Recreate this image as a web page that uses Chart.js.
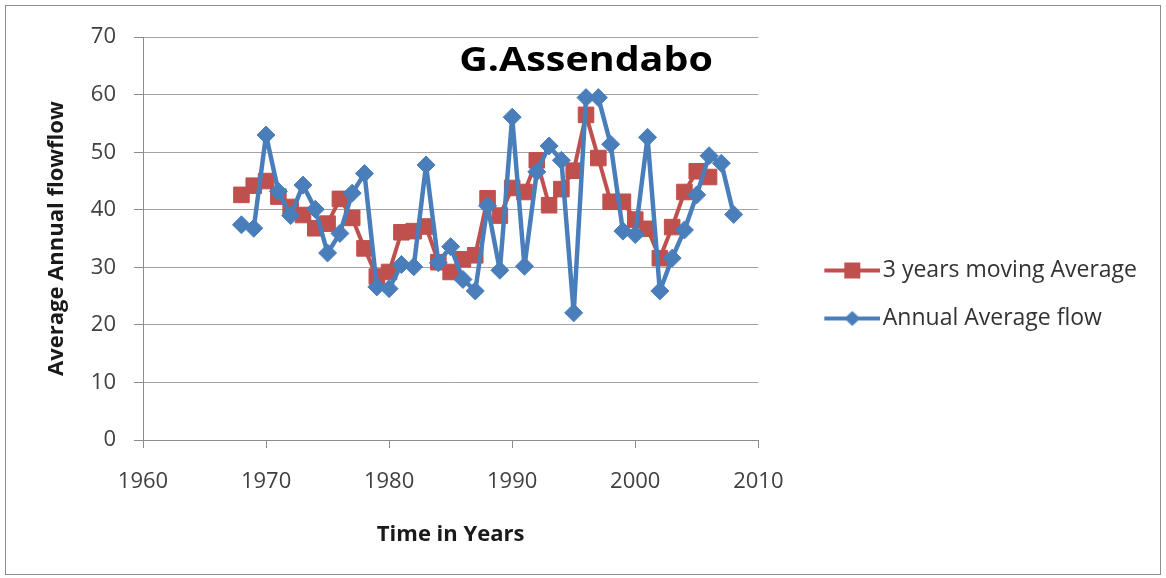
<!DOCTYPE html>
<html>
<head>
<meta charset="utf-8">
<title>G.Assendabo</title>
<script src="https://cdn.jsdelivr.net/npm/chart.js@4.4.0/dist/chart.umd.min.js"></script>
<style>
  html, body { margin: 0; padding: 0; background: #fff; }
  #frame { position: absolute; left: 5px; top: 5px; width: 1154px; height: 568px; border: 1px solid #8e8e8e; }
  #flowChart { display: block; }
</style>
</head>
<body>
<div id="frame"><canvas id="flowChart" width="1154" height="568"></canvas></div>
<script>
// Station and series names
const stationName = 'G.Assendabo';
const seriesNames = ['3 years moving Average', 'Annual Average flow'];

// Years of record
const years = [1968, 1969, 1970, 1971, 1972, 1973, 1974, 1975, 1976, 1977,
               1978, 1979, 1980, 1981, 1982, 1983, 1984, 1985, 1986, 1987,
               1988, 1989, 1990, 1991, 1992, 1993, 1994, 1995, 1996, 1997,
               1998, 1999, 2000, 2001, 2002, 2003, 2004, 2005, 2006, 2007, 2008];

// 3 years moving average (1968 - 2006)
const movingAverage = [42.6, 44.2, 45.0, 42.3, 40.5, 39.1, 36.8, 37.6, 41.9, 38.6,
                       33.3, 28.4, 29.2, 36.1, 36.3, 37.1, 30.9, 29.2, 31.4, 32.1,
                       42.0, 39.0, 43.8, 43.1, 48.6, 40.8, 43.6, 46.8, 56.5, 49.0,
                       41.4, 41.4, 38.3, 36.7, 31.6, 37.0, 43.1, 46.7, 45.7];

// Annual average flow (1968 - 2008)
const annualFlow = [37.4, 36.8, 53.0, 43.2, 39.0, 44.3, 40.1, 32.5, 35.9, 42.9,
                    46.3, 26.6, 26.3, 30.5, 30.1, 47.8, 30.8, 33.6, 27.9, 25.9,
                    40.7, 29.5, 56.1, 30.2, 46.6, 51.1, 48.6, 22.1, 59.5, 59.5,
                    51.4, 36.3, 35.7, 52.6, 25.9, 31.6, 36.5, 42.6, 49.4, 48.1, 39.2];

// Axis ticks
const xTicks = [1960, 1970, 1980, 1990, 2000, 2010];
const yTicks = [0, 10, 20, 30, 40, 50, 60, 70];

const RED = '#C0504D';
const BLUE = '#4A7EBB';
const GRID = '#a3a3a3';
const AXIS = '#8c8c8c';

Chart.defaults.font.family = '"Open Sans", sans-serif';

function toPoints(values) {
    return values.map((v, i) => ({ x: years[i], y: v }));
}

// Legend symbol: a short line with the series marker in the middle
function legendIcon(color, shape) {
    const c = document.createElement('canvas');
    c.width = 106;
    c.height = 24;
    const g = c.getContext('2d');
    g.strokeStyle = color;
    g.lineWidth = 4;
    g.beginPath();
    g.moveTo(50, 12);
    g.lineTo(106, 12);
    g.stroke();
    g.fillStyle = color;
    if (shape === 'square') {
        g.fillRect(70, 4, 16, 16);
    } else {
        g.beginPath();
        g.moveTo(78, 4.5);
        g.lineTo(86, 12);
        g.lineTo(78, 19.5);
        g.lineTo(70, 12);
        g.closePath();
        g.fill();
    }
    return c;
}
const legendIcons = [legendIcon(RED, 'square'), legendIcon(BLUE, 'diamond')];

// Station name written inside the plot area
const stationTitle = {
    id: 'stationTitle',
    afterDraw(chart) {
        const { ctx, chartArea } = chart;
        ctx.save();
        ctx.font = 'bold 34px "Open Sans", sans-serif';
        ctx.fillStyle = '#000';
        ctx.textAlign = 'center';
        ctx.textBaseline = 'middle';
        ctx.translate(chartArea.left + chartArea.width * 0.72, chartArea.top + 24);
        ctx.scale(1.16, 1);
        ctx.fillText(stationName, 0, 0);
        ctx.restore();
    }
};

const ctx = document.getElementById('flowChart').getContext('2d');
new Chart(ctx, {
    type: 'line',
    data: {
        datasets: [{
            label: seriesNames[0],
            data: toPoints(movingAverage),
            borderColor: RED,
            backgroundColor: RED,
            borderWidth: 4,
            borderJoinStyle: 'round',
            borderCapStyle: 'round',
            pointStyle: 'rect',
            pointRadius: 11,
            pointBackgroundColor: RED,
            pointBorderColor: RED,
            pointBorderWidth: 1,
            order: 2
        }, {
            label: seriesNames[1],
            data: toPoints(annualFlow),
            borderColor: BLUE,
            backgroundColor: BLUE,
            borderWidth: 4.5,
            borderJoinStyle: 'round',
            borderCapStyle: 'round',
            pointStyle: 'rectRot',
            pointRadius: 9,
            pointBackgroundColor: BLUE,
            pointBorderColor: BLUE,
            pointBorderWidth: 1,
            order: 1
        }]
    },
    options: {
        responsive: false,
        animation: false,
        layout: {
            padding: { top: 29, left: 0, right: 13, bottom: 20 }
        },
        plugins: {
            tooltip: { enabled: false },
            legend: {
                position: 'right',
                maxWidth: 420,
                labels: {
                    usePointStyle: true,
                    pointStyleWidth: 88,
                    padding: 25,
                    color: '#333',
                    font: { size: 23 },
                    generateLabels(chart) {
                        const items = Chart.defaults.plugins.legend.labels.generateLabels(chart);
                        items.forEach(item => { item.pointStyle = legendIcons[item.datasetIndex]; });
                        return items.sort((a, b) => a.datasetIndex - b.datasetIndex);
                    }
                }
            }
        },
        scales: {
            x: {
                type: 'linear',
                min: 1960,
                max: 2010,
                afterBuildTicks: s => { s.ticks = xTicks.map(v => ({ value: v })); },
                afterFit: s => { s.height = 114; },
                grid: { drawOnChartArea: false, color: AXIS, tickLength: 8 },
                border: { color: AXIS },
                ticks: {
                    callback: v => String(v),
                    color: '#404040',
                    font: { size: 22 },
                    padding: 21,
                    maxRotation: 0,
                    autoSkip: false
                },
                title: {
                    display: true,
                    text: 'Time in Years',
                    color: '#1a1a1a',
                    font: { size: 22, weight: 'bold' },
                    padding: { top: 0, bottom: 6 }
                }
            },
            y: {
                min: 0,
                max: 70,
                afterBuildTicks: s => { s.ticks = yTicks.map(v => ({ value: v })); },
                afterFit: s => { s.width = 137; },
                grid: { color: GRID, tickColor: AXIS, tickLength: 9 },
                border: { color: AXIS },
                ticks: { color: '#404040', font: { size: 22 }, padding: 18 },
                title: {
                    display: true,
                    text: 'Average Annual flowflow',
                    color: '#1a1a1a',
                    font: { size: 22, weight: 'bold' },
                    padding: { top: 38, bottom: 0 }
                }
            }
        }
    },
    plugins: [stationTitle]
});
</script>
</body>
</html>
